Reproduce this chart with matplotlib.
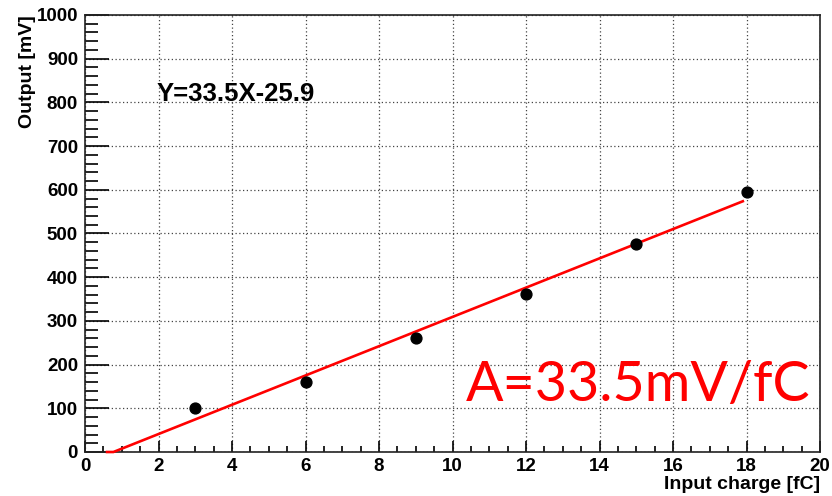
import numpy as np
import matplotlib
matplotlib.use("Agg")
import matplotlib.pyplot as plt
from matplotlib.ticker import MultipleLocator

plt.rcParams["font.family"] = ["Liberation Sans", "DejaVu Sans"]

# measured gain points
charge_fc = [3, 6, 9, 12, 15, 18]
output_mv = [101, 160, 262, 362, 476, 596]

# linear fit result and its drawn range
slope, intercept = 33.5, -25.9
fit_lo, fit_hi = 0.6, 17.9

fig = plt.figure(figsize=(8.32, 4.96), dpi=100)
ax = fig.add_axes([85 / 832, 1 - 452 / 496, 735 / 832, 437 / 496])

# fit line, clipped to the bottom of the frame like ROOT does
x0 = -intercept / slope
fx = np.array([fit_lo, x0, fit_hi])
fy = np.maximum(slope * fx + intercept, 0)
ax.plot(fx, fy, color="#ff0000", lw=1.9, zorder=3, clip_on=False)

ax.plot(charge_fc, output_mv, "o", color="black", ms=7.8, zorder=4)

ax.set_xlim(0, 20)
ax.set_ylim(0, 1000)
ax.xaxis.set_major_locator(MultipleLocator(2))
ax.xaxis.set_minor_locator(MultipleLocator(0.5))
ax.yaxis.set_major_locator(MultipleLocator(100))
ax.yaxis.set_minor_locator(MultipleLocator(20))

ax.grid(True, which="major", color="#444444", ls=(0, (1, 2)), lw=0.9)
ax.tick_params(which="both", direction="in", top=False, right=False,
               labelsize=13.5, width=1.2, color="black")
ax.tick_params(axis="y", which="major", length=17, pad=5)
ax.tick_params(axis="y", which="minor", length=9)
ax.tick_params(axis="x", which="major", length=8, pad=4)
ax.tick_params(axis="x", which="minor", length=4.5)
for lab in ax.get_xticklabels() + ax.get_yticklabels():
    lab.set_fontweight("bold")

for sp in ax.spines.values():
    sp.set_linewidth(1.2)
    sp.set_color("#222222")

ax.set_ylabel("Output [mV]", fontsize=14, fontweight="bold")
ax.yaxis.set_label_coords(-0.066, 1.0)
ax.yaxis.label.set_ha("right")
ax.set_xlabel("Input charge [fC]", fontsize=14, fontweight="bold")
ax.xaxis.set_label_coords(1.0, -0.055)
ax.xaxis.label.set_ha("right")

ax.text(1.95, 820, f"Y={slope}X{intercept}", fontsize=18.5, fontweight="bold",
        va="center", ha="left")
ax.text(19.75, 152, f"A={slope}mV/fC", fontsize=40, color="#ff0000",
        family=["Lato", "DejaVu Sans"], va="center", ha="right")

fig.savefig("out.png", dpi=100, facecolor="white")
